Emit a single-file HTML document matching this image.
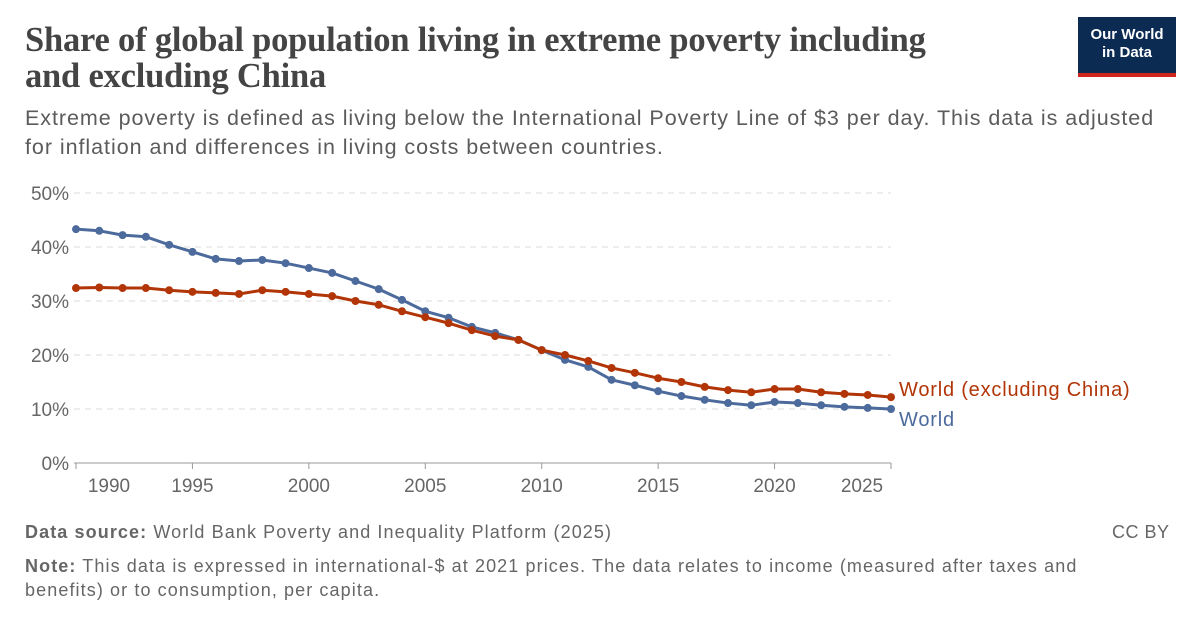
<!DOCTYPE html>
<html><head><meta charset="utf-8"><style>
body{margin:0;width:1200px;height:627px;background:#fff;font-family:"Liberation Sans",sans-serif;position:relative;overflow:hidden}
.title{position:absolute;left:25px;top:22px;font-family:"Liberation Serif",serif;font-size:34.5px;line-height:36px;color:#444;font-weight:bold;letter-spacing:-0.2px;white-space:nowrap}
.sub{position:absolute;left:25px;top:104px;font-size:21.5px;line-height:29px;color:#5b5b5b;letter-spacing:0.95px;white-space:nowrap}
.logo{position:absolute;left:1078px;top:17px;width:98px;height:60px;background:#0b2b53;color:#fff;font-size:15px;line-height:18px;text-align:center;box-sizing:border-box;padding-top:9px;font-weight:bold;border-bottom:4px solid #ce261e}
.foot{position:absolute;left:25px;font-size:18px;line-height:24px;color:#666;letter-spacing:1.1px;white-space:nowrap}
</style></head><body>
<div class="title">Share of global population living in extreme poverty including<br>and excluding China</div>
<div class="logo">Our World<br>in Data</div>
<div class="sub">Extreme poverty is defined as living below the International Poverty Line of $3 per day. This data is adjusted<br>for inflation and differences in living costs between countries.</div>
<svg id="chart" width="1200" height="627" style="position:absolute;left:0;top:0"></svg>
<div class="foot" style="top:520px"><b>Data source:</b> World Bank Poverty and Inequality Platform (2025)</div>
<div class="foot" style="top:520px;left:1112px;letter-spacing:0.5px">CC BY</div>
<div class="foot" style="top:554px"><b>Note:</b> This data is expressed in international-$ at 2021 prices. The data relates to income (measured after taxes and<br>benefits) or to consumption, per capita.</div>
<script>
const years=[];for(let y=1990;y<=2025;y++)years.push(y);
const worldValues=[43.3,43.0,42.2,41.9,40.4,39.1,37.8,37.4,37.6,37.0,36.1,35.2,33.7,32.2,30.2,28.1,26.9,25.2,24.1,22.8,20.9,19.1,17.8,15.4,14.4,13.3,12.4,11.7,11.1,10.7,11.3,11.1,10.7,10.4,10.2,10.0];
const exChinaValues=[32.4,32.5,32.4,32.4,32.0,31.7,31.5,31.3,32.0,31.7,31.3,30.9,30.0,29.3,28.1,27.0,25.9,24.6,23.5,22.8,20.9,20.0,18.9,17.6,16.7,15.7,15.0,14.1,13.5,13.1,13.7,13.7,13.1,12.8,12.6,12.2];
const yTicks=[0,10,20,30,40,50];
const xTicks=[1990,1995,2000,2005,2010,2015,2020,2025];
const NS="http://www.w3.org/2000/svg",svg=document.getElementById('chart');
const x=y=>76+(y-1990)*(891-76)/35, yv=v=>463-v*5.4;
function mk(t,a,txt){const e=document.createElementNS(NS,t);for(const k in a)e.setAttribute(k,a[k]);if(txt!==undefined)e.textContent=txt;svg.appendChild(e);return e;}
yTicks.forEach(t=>{
 const l=mk('line',{x1:74,x2:891,y1:yv(t),y2:yv(t),stroke:t?'#ddd':'#999','stroke-dasharray':t?'6,5':'none'});
 
 
 const tx=mk('text',{x:69,y:yv(t)+7,'text-anchor':'end','font-size':19,fill:'#666'},t+'%');
 
 
});
xTicks.forEach((t,i)=>{
 const l=mk('line',{x1:x(t),x2:x(t),y1:463,y2:469,stroke:'#999'});
 
 
 const off=i==0?33:(i==xTicks.length-1?-29:0);
 const tx=mk('text',{x:x(t)+off,y:492,'text-anchor':'middle','font-size':19,fill:'#666'},t);
 
 
});
function series(vals,col,name,label,ly){
 const p=mk('polyline',{points:vals.map((v,i)=>x(years[i])+','+yv(v)).join(' '),fill:'none',stroke:col,'stroke-width':3,'stroke-linejoin':'round'});
 
 
 vals.forEach((v,i)=>{const c=mk('circle',{cx:x(years[i]),cy:yv(v),r:4,fill:col});
  
  });
 const t=mk('text',{x:899,y:ly,'font-size':20,fill:col,'letter-spacing':'0.8'},label);
 
 
}
series(worldValues,'#4c6a9c','world','World',426);
series(exChinaValues,'#b13507','world-excluding-china','World (excluding China)',396);
</script>
</body></html>
